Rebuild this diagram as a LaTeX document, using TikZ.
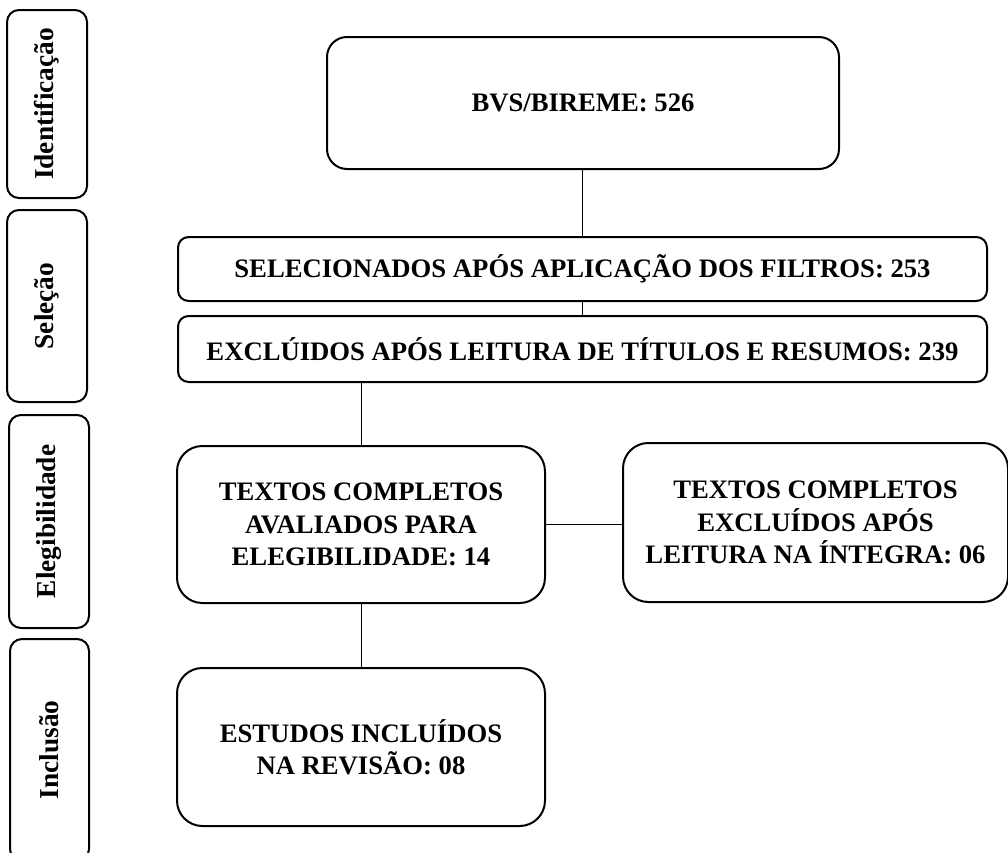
\documentclass[tikz,border=0pt]{standalone}
\usepackage{fontspec}
\setmainfont{Liberation Serif}
\begin{document}
\begin{tikzpicture}[x=0.75pt,y=-0.75pt,
  box/.style={draw,line width=1.5pt,align=center,font=\fontsize{20}{24.3}\selectfont\bfseries,inner sep=0pt},
  side/.style={draw,line width=1.5pt,rounded corners=9pt,rotate=90,inner sep=0pt,font=\fontsize{20.5}{24}\selectfont\bfseries},
  link/.style={line width=0.75pt}]
\useasboundingbox (0,0) rectangle (1008,853);
% side labels
\node[side,minimum width=188*0.75pt,minimum height=80*0.75pt] (id) at (47,104) {Identificação};
\node[side,minimum width=192*0.75pt,minimum height=80*0.75pt] (sl) at (47,306) {Seleção};
\node[side,minimum width=213*0.75pt,minimum height=80*0.75pt] (el) at (49,521.5) {Elegibilidade};
\node[side,minimum width=222*0.75pt,minimum height=79*0.75pt] (inc) at (49.5,750) {Inclusão};
% main boxes
\node[box,rounded corners=15pt,minimum width=512*0.75pt,minimum height=132*0.75pt] (bvs) at (583,103) {BVS/BIREME: 526};
\node[box,rounded corners=8pt,minimum width=809*0.75pt,minimum height=64*0.75pt] (sel) at (582.5,269) {SELECIONADOS APÓS APLICAÇÃO DOS FILTROS: 253};
\node[box,rounded corners=8pt,minimum width=809*0.75pt,minimum height=66*0.75pt] (exc) at (582.5,349) {EXCLÚIDOS APÓS LEITURA DE TÍTULOS E RESUMOS: 239};
\node[box,rounded corners=19pt,minimum width=368*0.75pt,minimum height=157*0.75pt] (aval) at (361,524.5) {TEXTOS COMPLETOS\\AVALIADOS PARA\\ELEGIBILIDADE: 14};
\node[box,rounded corners=19pt,minimum width=385*0.75pt,minimum height=159*0.75pt] (excl) at (815.5,522.5) {TEXTOS COMPLETOS\\EXCLUÍDOS APÓS\\LEITURA NA ÍNTEGRA: 06};
\node[box,rounded corners=19pt,minimum width=368*0.75pt,minimum height=158*0.75pt] (est) at (361,747) {ESTUDOS INCLUÍDOS\\NA REVISÃO: 08};
% connectors
\draw[link] (sel.north) -- (sel.north |- bvs.south);
\draw[link] (sel.south) -- (exc.north);
\draw[link] (aval.north) -- (aval.north |- exc.south);
\draw[link] (aval.east) -- (aval.east -| excl.west);
\draw[link] (aval.south) -- (est.north);
\end{tikzpicture}
\end{document}
